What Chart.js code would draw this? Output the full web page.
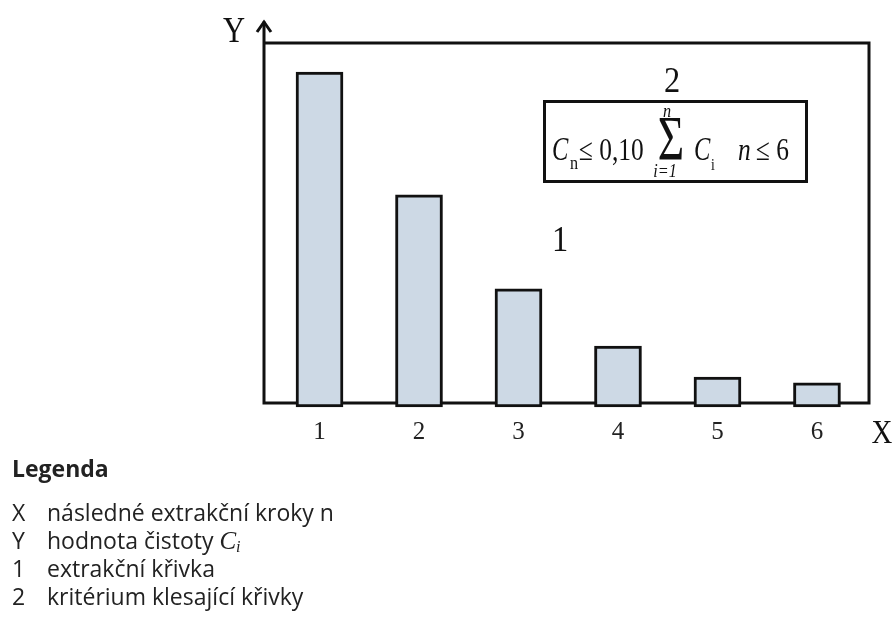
<!DOCTYPE html>
<html>
<head>
<meta charset="utf-8">
<script src="https://cdn.jsdelivr.net/npm/chart.js@4.4.1/dist/chart.umd.min.js"></script>
<style>
  body { margin: 0; background: #fff; }
  #wrap { position: relative; width: 895px; height: 628px; }
  #chart { position: absolute; left: 0; top: 0; }
  #legend { position: absolute; left: 12px; top: 454px; font-family: "Open Sans", sans-serif; font-size: 23px; color: #222; }
  #legend .title { font-weight: bold; height: 28px; line-height: 28px; margin-bottom: 16px; }
  #legend .row { height: 28px; line-height: 28px; white-space: nowrap; }
  #legend .key { display: inline-block; width: 35px; }
  #legend .math { font-family: "Liberation Serif", serif; font-style: italic; font-size: 25px; line-height: 0; }
  #legend sub { font-size: 16px; line-height: 0; vertical-align: -3px; }
</style>
</head>
<body>
<div id="wrap">
  <canvas id="chart" width="895" height="628"></canvas>
  <div id="legend">
    <div class="title">Legenda</div>
    <div class="row"><span class="key">X</span>následné extrakční kroky n</div>
    <div class="row"><span class="key">Y</span>hodnota čistoty <span class="math">C<sub>i</sub></span></div>
    <div class="row"><span class="key">1</span>extrakční křivka</div>
    <div class="row"><span class="key">2</span>kritérium klesající křivky</div>
  </div>
</div>
<script>
// extraction steps n and purity values C_i (relative)
const steps = [1, 2, 3, 4, 5, 6];
const purity = [91.9, 57.8, 31.7, 15.8, 7.2, 5.6];
const tickLabels = ["1", "2", "3", "4", "5", "6"];

const serif = '"Liberation Serif", "DejaVu Serif", serif';
const ink = "#111";

// draws text squeezed horizontally, anchored at x
function txt(ctx, s, x, y, font, sx, align) {
  ctx.save();
  ctx.font = font;
  ctx.textBaseline = "alphabetic";
  ctx.textAlign = align || "left";
  ctx.translate(x, y);
  ctx.scale(sx, 1);
  ctx.fillText(s, 0, 0);
  ctx.restore();
}

//frame, arrow and axis names
const framePlugin = {
  id: "frame",
  beforeDatasetsDraw(chart) {
    const { ctx, chartArea: a } = chart;
    ctx.save();
    ctx.strokeStyle = ink;
    ctx.lineWidth = 3;
    ctx.lineCap = "square";
    ctx.beginPath();
    ctx.moveTo(a.left, a.top - 20);
    ctx.lineTo(a.left, a.bottom);
    ctx.lineTo(a.right, a.bottom);
    ctx.lineTo(a.right, a.top);
    ctx.lineTo(a.left, a.top);
    ctx.stroke();
    // arrow head
    ctx.lineCap = "butt";
    ctx.lineJoin = "miter";
    ctx.beginPath();
    ctx.moveTo(a.left - 7, a.top - 11);
    ctx.lineTo(a.left, a.top - 21);
    ctx.lineTo(a.left + 7, a.top - 11);
    ctx.stroke();
    ctx.restore();
  },
  afterDatasetsDraw(chart) {
    const { ctx, chartArea: a } = chart;
    ctx.save();
    ctx.fillStyle = ink;
    txt(ctx, "Y", a.left - 30, a.top - 1, "36px " + serif, 0.85, "center");
    txt(ctx, "X", a.right + 13, a.bottom + 40, "34px " + serif, 0.85, "center");
    // curve label
    txt(ctx, "1", 560, 251, "36px " + serif, 0.9, "center");
    txt(ctx, "2", 672, 92, "36px " + serif, 0.9, "center");
    // criterion box
    ctx.strokeStyle = ink;
    ctx.lineWidth = 3;
    ctx.strokeRect(544.5, 101.5, 262, 80);
    const it = "italic ";
    txt(ctx, "C", 552, 160, it + "34px " + serif, 0.72);
    txt(ctx, "n", 570, 169, "19px " + serif, 0.85);
    txt(ctx, "≤ 0,10", 579, 160, "31px " + serif, 0.82);
    txt(ctx, "Σ", 671, 160, "63px " + serif, 0.72, "center");
    txt(ctx, "n", 667, 117, it + "19px " + serif, 0.85, "center");
    txt(ctx, "i=1", 665, 177, it + "19px " + serif, 0.85, "center");
    txt(ctx, "C", 694, 160, it + "34px " + serif, 0.72);
    txt(ctx, "i", 711, 170, "16px " + serif, 0.85);
    txt(ctx, "n", 738, 160, it + "31px " + serif, 0.82);
    txt(ctx, "≤ 6", 756, 160, "31px " + serif, 0.82);
    ctx.restore();
  }
};

new Chart(document.getElementById("chart"), {
  type: "bar",
  plugins: [framePlugin],
  data: {
    datasets: [{
      data: steps.map((s, i) => ({ x: s, y: purity[i] })),
      backgroundColor: "#cdd9e5",
      borderColor: ink,
      borderWidth: 3,
      borderSkipped: false,
      barThickness: 47,
      base: -1.1,
      clip: false
    }]
  },
  options: {
    responsive: false,
    animation: false,
    layout: { padding: { left: 264, top: 43, right: 26, bottom: 185 } },
    plugins: { legend: { display: false }, tooltip: { enabled: false } },
    scales: {
      x: {
        type: "linear",
        offset: false,
        min: 0.442,
        max: 6.523,
        grid: { display: false, drawTicks: false },
        border: { display: false },
        afterBuildTicks: (scale) => { scale.ticks = steps.map(v => ({ value: v })); },
        afterFit: (scale) => { scale.height = 40; },
        ticks: {
          padding: 14,
          color: "#222",
          font: { family: serif, size: 25 },
          callback: (v) => tickLabels[steps.indexOf(v)] ?? ""
        }
      },
      y: { display: false, min: 0, max: 100 }
    }
  }
});
</script>
</body>
</html>
